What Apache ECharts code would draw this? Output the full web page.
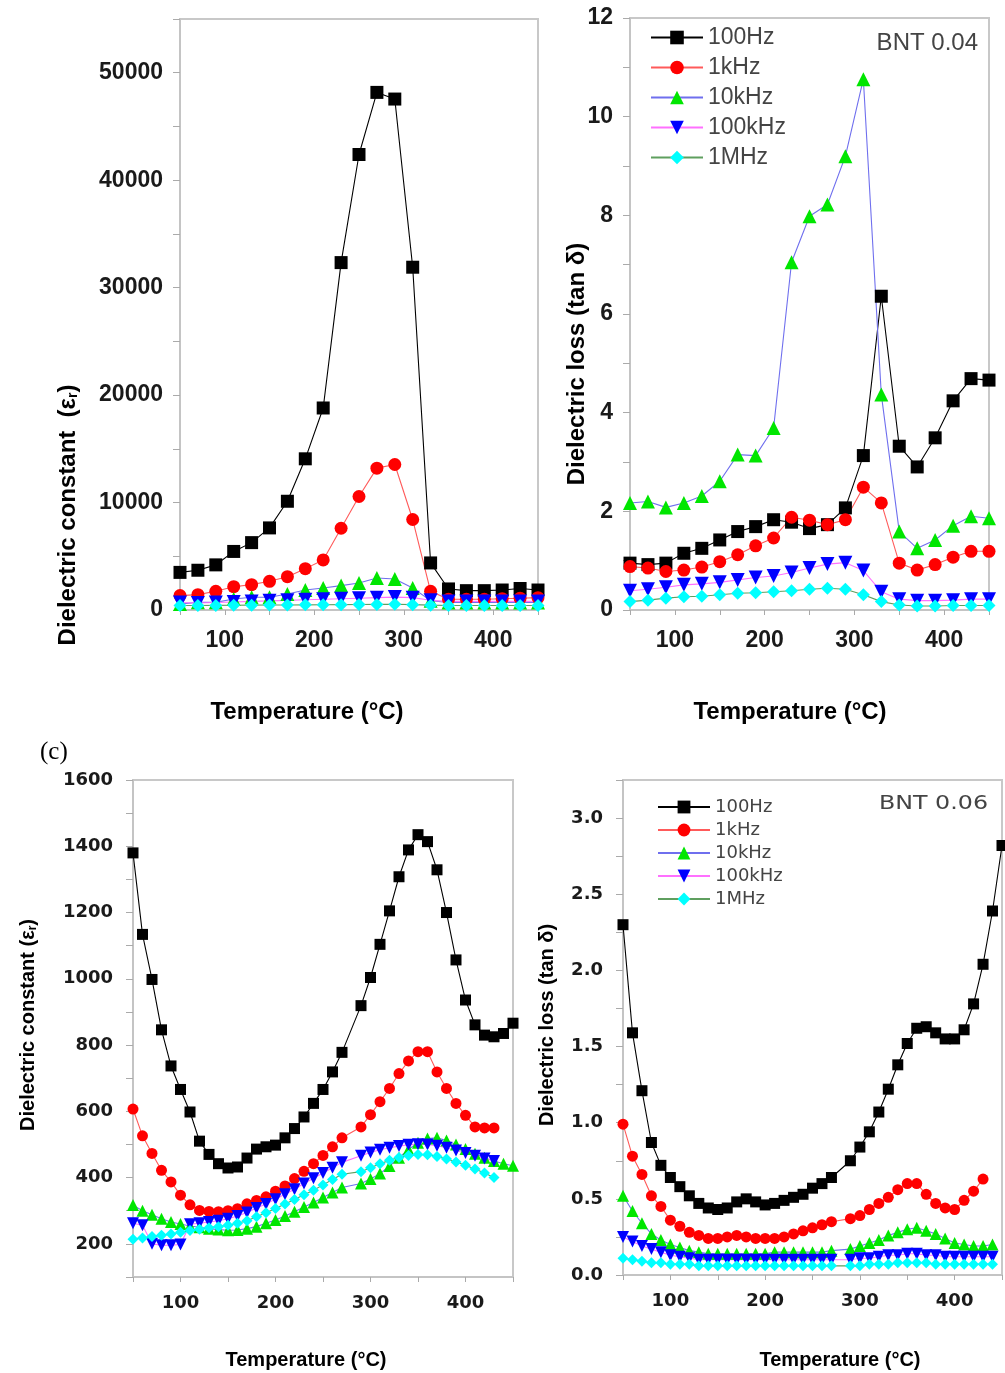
<!DOCTYPE html>
<html lang="en">
<head>
  <meta charset="UTF-8" />
  <script src="https://cdn.jsdelivr.net/npm/echarts@6/dist/echarts.min.js"></script>
  <title>BNT dielectric</title>
  <style>
    html, body { margin: 0; padding: 0; background: #fff; }
  </style>
</head>
<body>
  <div id="main" style="width: 1005px; height: 1373px;"></div>
  <script type="text/javascript">
    // legend names (frequencies)
    var freqs = ["100Hz", "1kHz", "10kHz", "100kHz", "1MHz"];

    // ---- BNT 0.04 (top row), every 20 C ----
    var tempTop = [50, 70, 90, 110, 130, 150, 170, 190, 210, 230, 250, 270, 290, 310, 330, 350, 370, 390, 410, 430, 450];
    var epsA_100Hz = [3500, 3700, 4200, 5450, 6270, 7640, 10120, 14070, 18800, 32330, 42390, 48170, 47550, 31900, 4380, 1960, 1800, 1800, 1860, 2000, 1860];
    var epsA_1kHz = [1340, 1430, 1740, 2170, 2360, 2670, 3100, 3850, 4660, 7610, 10560, 13200, 13540, 8420, 1740, 1000, 1000, 1000, 1050, 1100, 1150];
    var epsA_10kHz = [560, 710, 710, 1020, 1180, 1180, 1490, 1860, 2050, 2270, 2520, 2980, 2890, 2050, 870, 700, 700, 700, 700, 700, 700];
    var epsA_100kHz = [700, 650, 700, 750, 800, 850, 900, 950, 1000, 1050, 1100, 1150, 1200, 1150, 900, 800, 800, 800, 800, 800, 800];
    var epsA_1MHz = [420, 420, 430, 440, 450, 460, 470, 480, 490, 500, 510, 520, 530, 500, 450, 420, 420, 420, 420, 420, 420];

    var lossA_100Hz = [0.95, 0.92, 0.95, 1.15, 1.25, 1.42, 1.59, 1.69, 1.83, 1.78, 1.65, 1.73, 2.07, 3.13, 6.36, 3.32, 2.90, 3.49, 4.24, 4.69, 4.66];
    var lossA_1kHz = [0.88, 0.85, 0.78, 0.81, 0.87, 0.98, 1.12, 1.30, 1.46, 1.88, 1.82, 1.73, 1.83, 2.49, 2.17, 0.95, 0.81, 0.92, 1.07, 1.19, 1.19];
    var lossA_10kHz = [2.17, 2.20, 2.08, 2.17, 2.31, 2.61, 3.15, 3.13, 3.69, 7.05, 7.98, 8.22, 9.20, 10.76, 4.37, 1.59, 1.25, 1.42, 1.71, 1.90, 1.86];
    var lossA_100kHz = [0.39, 0.42, 0.46, 0.51, 0.53, 0.56, 0.61, 0.66, 0.69, 0.76, 0.85, 0.93, 0.96, 0.80, 0.37, 0.22, 0.19, 0.19, 0.20, 0.22, 0.22];
    var lossA_1MHz = [0.17, 0.20, 0.24, 0.27, 0.28, 0.31, 0.34, 0.35, 0.37, 0.39, 0.42, 0.44, 0.42, 0.31, 0.17, 0.10, 0.08, 0.08, 0.09, 0.09, 0.09];

    // ---- BNT 0.06 (bottom row), every 10 C, no point at 280 ----
    var tempBot = [50, 60, 70, 80, 90, 100, 110, 120, 130, 140, 150, 160, 170, 180, 190, 200, 210, 220, 230, 240, 250, 260, 270,
      290, 300, 310, 320, 330, 340, 350, 360, 370, 380, 390, 400, 410, 420, 430, 440, 450];
    var epsB_100Hz = [1380, 1134, 998, 846, 737, 666, 598, 510, 470, 442, 429, 432, 459, 486, 493, 498, 520, 548, 583, 624, 666, 719, 778,
      919, 1004, 1104, 1205, 1308, 1389, 1435, 1414, 1329, 1200, 1057, 936, 861, 830, 825, 835, 866];
    var epsB_1kHz = [607, 526, 473, 422, 387, 347, 318, 301, 298, 297, 300, 306, 321, 331, 342, 359, 375, 397, 419, 442, 467, 493, 520,
      553, 590, 629, 669, 714, 752, 780, 780, 719, 669, 624, 588, 553, 550, 550];
    var epsB_10kHz = [317, 300, 288, 276, 266, 260, 254, 250, 246, 243, 241, 242, 246, 252, 262, 272, 284, 297, 311, 325, 340, 355, 370,
      382, 396, 412, 435, 460, 485, 505, 518, 520, 512, 500, 486, 472, 460, 450, 442, 436];
    var epsB_100kHz = [262, 256, 200, 196, 196, 198, 259, 262, 266, 270, 276, 284, 295, 308, 320, 335, 350, 365, 382, 398, 414, 430, 446,
      466, 476, 484, 490, 495, 499, 501, 500, 496, 490, 482, 474, 466, 458, 450];
    var epsB_1MHz = [214, 218, 222, 226, 230, 235, 240, 244, 249, 252, 256, 262, 270, 282, 294, 307, 320, 334, 348, 362, 378, 394, 410,
      418, 430, 442, 452, 461, 467, 470, 469, 464, 456, 447, 437, 426, 414, 400];

    var lossB_100Hz = [2.30, 1.59, 1.21, 0.87, 0.72, 0.64, 0.58, 0.52, 0.47, 0.44, 0.43, 0.44, 0.48, 0.50, 0.48, 0.46, 0.47, 0.49, 0.51, 0.53, 0.57, 0.60, 0.64,
      0.75, 0.84, 0.94, 1.07, 1.22, 1.38, 1.52, 1.62, 1.63, 1.59, 1.55, 1.55, 1.61, 1.78, 2.04, 2.39, 2.82];
    var lossB_1kHz = [0.99, 0.78, 0.66, 0.52, 0.45, 0.36, 0.32, 0.28, 0.26, 0.24, 0.24, 0.25, 0.26, 0.25, 0.24, 0.24, 0.24, 0.25, 0.27, 0.29, 0.31, 0.33, 0.35,
      0.37, 0.39, 0.43, 0.47, 0.51, 0.56, 0.60, 0.60, 0.53, 0.47, 0.44, 0.43, 0.49, 0.55, 0.63];
    var lossB_10kHz = [0.52, 0.42, 0.34, 0.27, 0.23, 0.20, 0.18, 0.16, 0.15, 0.14, 0.14, 0.14, 0.14, 0.14, 0.14, 0.14, 0.15, 0.15, 0.15, 0.15, 0.15, 0.15, 0.16,
      0.17, 0.19, 0.21, 0.23, 0.26, 0.28, 0.30, 0.31, 0.29, 0.27, 0.24, 0.21, 0.20, 0.19, 0.19, 0.20];
    var lossB_100kHz = [0.25, 0.22, 0.19, 0.17, 0.15, 0.13, 0.12, 0.11, 0.10, 0.10, 0.10, 0.10, 0.10, 0.10, 0.10, 0.10, 0.10, 0.10, 0.10, 0.10, 0.10, 0.10, 0.10,
      0.10, 0.11, 0.11, 0.12, 0.13, 0.13, 0.14, 0.14, 0.13, 0.13, 0.12, 0.12, 0.12, 0.12, 0.12, 0.12];
    var lossB_1MHz = [0.11, 0.10, 0.09, 0.08, 0.08, 0.07, 0.07, 0.07, 0.06, 0.06, 0.06, 0.06, 0.06, 0.06, 0.06, 0.06, 0.06, 0.06, 0.06, 0.06, 0.06, 0.06, 0.06,
      0.06, 0.06, 0.07, 0.07, 0.07, 0.08, 0.08, 0.08, 0.08, 0.07, 0.07, 0.07, 0.07, 0.07, 0.07, 0.07];

    // marker + line look for each frequency
    var styles = [
      { symbol: "rect", marker: "#000000", line: "#000000" },
      { symbol: "circle", marker: "#ff0000", line: "#ff5a5a" },
      { symbol: "triangle", marker: "#00e600", line: "#6f6fee" },
      { symbol: "path://M0,0L10,0L5,9Z", marker: "#0000ff", line: "#ff70ff" },
      { symbol: "diamond", marker: "#00ffff", line: "#5f9f5f" },
    ];

    var SANS = "Liberation Sans";
    var WIDE = "DejaVu Sans";

    function zip(xs, ys) {
      return ys.map(function (y, i) { return [xs[i], y]; });
    }

    function makeSeries(k, gi, temps, vals, size) {
      var s = styles[k];
      return {
        name: freqs[k],
        type: "line",
        xAxisIndex: gi,
        yAxisIndex: gi,
        data: zip(temps, vals),
        symbol: s.symbol,
        symbolSize: s.symbol === "triangle" || k === 3 ? size + 1 : size,
        showAllSymbol: true,
        itemStyle: { color: s.marker },
        lineStyle: { color: s.line, width: 1.1 },
        emphasis: { disabled: true },
        animation: false,
      };
    }

    function xAxis(gi, font, fs, margin) {
      return {
        type: "value", gridIndex: gi, min: 50, max: 450, interval: 50,
        axisLine: { show: true, onZero: false, lineStyle: { color: "#c4c4c4", width: 2 } },
        axisTick: { show: true, length: 5, lineStyle: { color: "#aaaaaa" } },
        axisLabel: {
          margin: margin, fontSize: fs, fontWeight: "bold", color: "#1a1a1a", fontFamily: font,
          formatter: function (v) { return v % 100 === 0 ? String(v) : ""; },
        },
        splitLine: { show: false },
      };
    }

    function yAxis(gi, min, max, step, labelStep, font, fs, margin, digits) {
      return {
        type: "value", gridIndex: gi, min: min, max: max, interval: step,
        axisLine: { show: true, onZero: false, lineStyle: { color: "#c4c4c4", width: 2 } },
        axisTick: { show: true, length: 7, lineStyle: { color: "#aaaaaa" } },
        axisLabel: {
          margin: margin, fontSize: fs, fontWeight: "bold", color: "#1a1a1a", fontFamily: font,
          formatter: function (v) {
            var r = v / labelStep;
            if (Math.abs(r - Math.round(r)) > 1e-6) return "";
            return digits ? v.toFixed(digits) : String(v);
          },
        },
        splitLine: { show: false },
      };
    }

    var grid = [
      { left: 180, top: 19, width: 358, height: 591 },
      { left: 630, top: 18, width: 359, height: 592 },
      { left: 133, top: 780, width: 380, height: 497 },
      { left: 623, top: 780, width: 387, height: 495 },
    ].map(function (g) {
      g.show = true; g.borderColor = "#c8c8c8"; g.borderWidth = 2; g.containLabel = false;
      return g;
    });

    var series = [];
    [epsA_100Hz, epsA_1kHz, epsA_10kHz, epsA_100kHz, epsA_1MHz].forEach(function (v, k) { series.push(makeSeries(k, 0, tempTop, v, 13)); });
    [lossA_100Hz, lossA_1kHz, lossA_10kHz, lossA_100kHz, lossA_1MHz].forEach(function (v, k) { series.push(makeSeries(k, 1, tempTop, v, 13)); });
    [epsB_100Hz, epsB_1kHz, epsB_10kHz, epsB_100kHz, epsB_1MHz].forEach(function (v, k) { series.push(makeSeries(k, 2, tempBot, v, 11)); });
    [lossB_100Hz, lossB_1kHz, lossB_10kHz, lossB_100kHz, lossB_1MHz].forEach(function (v, k) { series.push(makeSeries(k, 3, tempBot, v, 11)); });

    function title(text, x, y, size, rotate) {
      return {
        type: "text", x: x, y: y, rotation: rotate ? Math.PI / 2 : 0,
        style: {
          text: text, fill: "#000", fontFamily: SANS, fontWeight: "bold", fontSize: size,
          align: "center", verticalAlign: "middle",
          rich: {
            e: { fontFamily: SANS, fontWeight: "bold", fontSize: size, fill: "#000" },
            s: { fontFamily: SANS, fontWeight: "bold", fontSize: Math.round(size * 0.6), fill: "#000", padding: [Math.round(size * 0.45), 0, 0, 0] },
          },
        },
      };
    }

    var myChart = echarts.init(document.getElementById("main"), null, { renderer: "canvas" });
    myChart.setOption({
      animation: false,
      backgroundColor: "#ffffff",
      grid: grid,
      xAxis: [xAxis(0, SANS, 23, 19), xAxis(1, SANS, 23, 19), xAxis(2, WIDE, 18, 17), xAxis(3, WIDE, 18, 17)],
      yAxis: [
        yAxis(0, 0, 55000, 5000, 10000, SANS, 23, 17, 0),
        yAxis(1, 0, 12, 1, 2, SANS, 23, 17, 0),
        yAxis(2, 100, 1600, 100, 200, WIDE, 18, 20, 0),
        yAxis(3, 0, 3.25, 0.25, 0.5, WIDE, 18, 20, 1),
      ],
      legend: [
        {
          data: freqs, orient: "vertical", left: 645, top: 21, itemWidth: 52, itemHeight: 17, itemGap: 7,
          textStyle: { fontSize: 23, color: "#444", fontFamily: SANS }, selectedMode: false,
        },
        {
          data: freqs, orient: "vertical", left: 652, top: 793, itemWidth: 52, itemHeight: 16, itemGap: 5,
          textStyle: { fontSize: 18, color: "#444", fontFamily: WIDE }, selectedMode: false,
        },
      ],
      graphic: [
        title("{e|Dielectric constant  (ε}{s|r}{e|)}", 68, 515, 24, true),
        title("Dielectric loss (tan δ)", 577, 364, 24, true),
        title("{e|Dielectric constant (ε}{s|r}{e|)}", 28, 1025, 20, true),
        title("Dielectric loss (tan δ)", 547, 1025, 20, true),
        title("Temperature (°C)", 307, 712, 24, false),
        title("Temperature (°C)", 790, 712, 24, false),
        title("Temperature (°C)", 306, 1360, 20, false),
        title("Temperature (°C)", 840, 1360, 20, false),
        {
          type: "text", x: 978, y: 43,
          style: { text: "BNT 0.04", fill: "#444", fontFamily: SANS, fontSize: 24, align: "right", verticalAlign: "middle" },
        },
        {
          type: "text", x: 988, y: 804, scaleX: 1.25,
          style: { text: "BNT 0.06", fill: "#444", fontFamily: WIDE, fontSize: 19, align: "right", verticalAlign: "middle" },
        },
        {
          type: "text", x: 40, y: 752,
          style: { text: "(c)", fill: "#000", fontFamily: "Liberation Serif", fontSize: 25, align: "left", verticalAlign: "middle" },
        },
      ],
      series: series,
    });
  </script>
</body>
</html>
